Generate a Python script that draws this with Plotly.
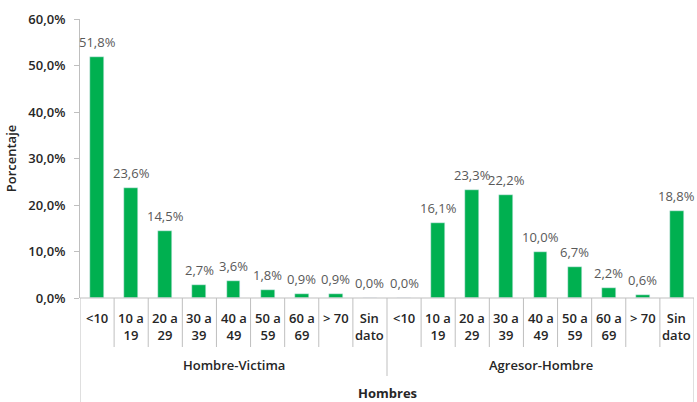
import plotly.graph_objects as go

# Age brackets (shown on two lines under each bar)
age_groups = ["<10", "10 a<br>19", "20 a<br>29", "30 a<br>39", "40 a<br>49",
              "50 a<br>59", "60 a<br>69", "> 70", "Sin<br>dato"]
groups = ["Hombre-Victima", "Agresor-Hombre"]
outer_label = "Hombres"

victima_pct = [51.8, 23.6, 14.5, 2.7, 3.6, 1.8, 0.9, 0.9, 0.0]
agresor_pct = [0.0, 16.1, 23.3, 22.2, 10.0, 6.7, 2.2, 0.6, 18.8]

y_ticks = [0, 10, 20, 30, 40, 50, 60]
y_title = "Porcentaje"

values = victima_pct + agresor_pct
n = len(values)
xs = list(range(n))
labels = [f"{v:.1f}".replace(".", ",") + "%" for v in values]

GREEN = "#00B050"
AXIS = "#BFBFBF"
FONT = "Open Sans"
TXT = "#262626"
PLOT_H = 402 - 19 - 104  # plot-area height in px


def below(px):
    """Paper y coordinate px pixels below the x axis."""
    return -px / PLOT_H


def dark(size=13, weight=600):
    return dict(family=FONT, size=size, color=TXT, weight=weight)


fig = go.Figure()
fig.add_trace(go.Bar(x=xs, y=values, marker_color=GREEN, width=0.41,
                     hoverinfo="skip"))

shapes = []
annotations = []

# value labels above the bars
for x, v, t in zip(xs, values, labels):
    annotations.append(dict(x=x, y=v, xref="x", yref="y", text=t,
                            showarrow=False, xanchor="center",
                            yanchor="middle", yshift=15,
                            font=dict(family=FONT, size=13, color="#595959")))

# row 1: age labels and short dividers
for i in range(n):
    annotations.append(dict(x=xs[i], y=0, xref="x", yref="paper",
                            yshift=-9, text=age_groups[i % 9], showarrow=False,
                            xanchor="center", yanchor="top", font=dark()))
for b in range(1, n):
    if b == 9:
        continue
    shapes.append(dict(type="line", xref="x", yref="paper", x0=b - 0.5,
                       x1=b - 0.5, y0=0, y1=below(49),
                       line=dict(color=AXIS, width=1)))

# group divider and outer boundary lines
shapes.append(dict(type="line", xref="x", yref="paper", x0=8.5, x1=8.5,
                   y0=0, y1=below(78), line=dict(color=AXIS, width=1)))
for xb in (-0.5, 17.5):
    shapes.append(dict(type="line", xref="x", yref="paper", x0=xb, x1=xb,
                       y0=0, y1=below(104), line=dict(color=AXIS, width=1)))
# horizontal axis line, starting at the tick-mark length
shapes.append(dict(type="line", xref="x", yref="paper", x0=-0.66, x1=17.5,
                   y0=0, y1=0, line=dict(color=AXIS, width=1)))

# row 2: group labels
for g, name in enumerate(groups):
    annotations.append(dict(x=g * 9 + 4, y=below(67), xref="x", yref="paper",
                            text=name, showarrow=False, xanchor="center",
                            yanchor="middle", font=dark()))
# row 3: outer label
annotations.append(dict(x=8.5, y=below(95), xref="x", yref="paper",
                        text=outer_label, showarrow=False,
                        xanchor="center", yanchor="middle",
                        font=dark(weight=700)))

fig.update_layout(
    width=697, height=402,
    margin=dict(l=80, r=3, t=19, b=104),
    plot_bgcolor="white", paper_bgcolor="white",
    showlegend=False, bargap=0,
    shapes=shapes, annotations=annotations,
    xaxis=dict(range=[-0.5, 17.5], showticklabels=False, showgrid=False,
               zeroline=False, showline=False, ticks="", fixedrange=True),
    yaxis=dict(range=[0, 60], tickvals=y_ticks,
               ticktext=[f"{t:.1f}".replace(".", ",") + "%" for t in y_ticks],
               showgrid=False, zeroline=False, showline=True, linecolor=AXIS,
               linewidth=1, ticks="outside", ticklen=5, tickcolor=AXIS,
               ticklabelstandoff=6, tickfont=dark(),
               title=dict(text=y_title, standoff=8, font=dark())),
)

fig.write_html("out.html")
